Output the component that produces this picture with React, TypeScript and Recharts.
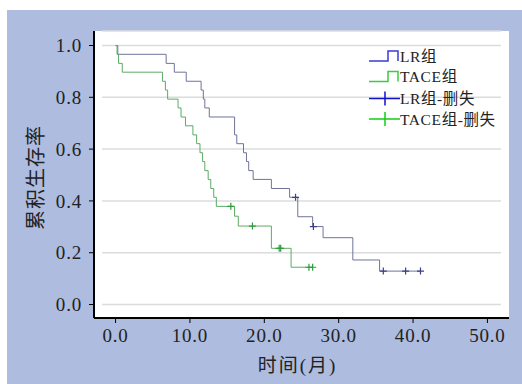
import React from "react";
import { CartesianGrid, ComposedChart, Legend, Line, Scatter, XAxis, YAxis } from "recharts";

// Kaplan-Meier steps (time in months, cumulative survival)
const lrTimes = [0, 0.3, 6.8, 7.9, 9.5, 11.5, 11.8, 12.0, 12.6, 16.0, 16.3, 17.2, 17.6, 17.9, 18.5, 20.95, 23.4, 24.5, 26.5, 27.9, 31.9, 35.5, 41.0];
const lrSurv = [1, 0.966, 0.931, 0.897, 0.862, 0.828, 0.793, 0.759, 0.724, 0.655, 0.621, 0.586, 0.552, 0.517, 0.483, 0.448, 0.414, 0.339, 0.301, 0.258, 0.172, 0.129, 0.129];
const taceTimes = [0, 0.2, 0.4, 0.9, 6.3, 6.7, 7.0, 8.4, 8.8, 9.4, 10.4, 10.9, 11.35, 11.7, 12.0, 12.45, 12.8, 13.2, 13.55, 16.0, 16.5, 20.95, 23.6, 26.5];
const taceSurv = [1, 0.966, 0.931, 0.897, 0.862, 0.828, 0.793, 0.759, 0.724, 0.69, 0.655, 0.621, 0.586, 0.552, 0.517, 0.483, 0.448, 0.414, 0.379, 0.341, 0.303, 0.217, 0.144, 0.144];

// censored observations
const lrCensorTimes = [24.2, 26.6, 36.0, 39.0, 41.0];
const lrCensorSurv = [0.414, 0.301, 0.129, 0.129, 0.129];
const taceCensorTimes = [15.5, 18.4, 22.0, 22.2, 26.0, 26.5];
const taceCensorSurv = [0.379, 0.303, 0.217, 0.217, 0.144, 0.144];

const xTicks = [0, 10, 20, 30, 40, 50];
const yTicks = [0, 0.2, 0.4, 0.6, 0.8, 1.0];
const seriesNames = ["LR组", "TACE组", "LR组-删失", "TACE组-删失"];

const toRows = (ts: number[], ss: number[]) => ts.map((t, i) => ({ t, s: ss[i] }));

const FONT = '"Liberation Serif", "DejaVu Serif", "Noto Sans CJK SC", serif';
const LR_LINE = "#707399";
const TACE_LINE = "#5aab64";
const LR_MARK = "#3c4088";
const TACE_MARK = "#2f9a3f";

const plus = (color: string) => (p: any) => (
  <path d={`M${p.cx - 3.5},${p.cy}h7M${p.cx},${p.cy - 3.5}v7`} stroke={color} strokeWidth={1.2} fill="none" />
);

function LegendBox() {
  const legendColors = ["#3b3bd6", "#3ccc3c", "#1010c8", "#10d010"];
  return (
    <svg width={150} height={82} style={{ fontFamily: FONT }}>
      {seriesNames.map((name, i) => {
        const cy = 10 + i * 20.5 + (i > 1 ? 1.5 : 0);
        const c = legendColors[i];
        return (
          <g key={name}>
            {i < 2 ? (
              <path d={`M1,${cy + 5}H20V${cy - 5}H30V${cy + 5}`} stroke={c} strokeWidth={1.5} fill="none" />
            ) : (
              <path d={`M1,${cy}H32M17,${cy - 7}V${cy + 7}`} stroke={c} strokeWidth={1.5} fill="none" />
            )}
            <text x={32} y={cy} dy="0.36em" fontSize={15.5} letterSpacing={0.6} fill="#222">
              {name}
            </text>
          </g>
        );
      })}
    </svg>
  );
}

export default function App() {
  const lr = toRows(lrTimes, lrSurv);
  const tace = toRows(taceTimes, taceSurv);
  const lrCens = toRows(lrCensorTimes, lrCensorSurv);
  const taceCens = toRows(taceCensorTimes, taceCensorSurv);
  const tickStyle = { fontFamily: FONT, fontSize: 19, fill: "#222", letterSpacing: 0.8 };

  return (
    <div style={{ position: "absolute", left: 0, top: 0, width: 522, height: 384 }}>
      <div style={{ position: "absolute", left: 7, top: 10, width: 515, height: 374, background: "#adbcdf" }} />
      <div style={{ position: "absolute", left: 0, top: 0 }}>
        <ComposedChart width={522} height={384} margin={{ top: 31, right: 13, bottom: 6, left: 14 }}>
          <CartesianGrid
            fill="#fff"
            fillOpacity={1}
            vertical={false}
            horizontal={(p: any) => (
              <line key={p.key} x1={p.x1 + 8} x2={p.x2 - 8} y1={p.y1} y2={p.y2} stroke="#dcdcdc" strokeWidth={1.5} />
            )}
          />
          <XAxis
            dataKey="t"
            type="number"
            domain={[-2.9, 52.9]}
            ticks={xTicks}
            allowDataOverflow
            tickFormatter={(v: number) => v.toFixed(1)}
            height={60}
            tickSize={5}
            tickMargin={6}
            stroke="#000"
            axisLine={{ stroke: "#000", strokeWidth: 2 }}
            tick={tickStyle}
            label={{ value: "时间(月)", position: "insideBottom", offset: 6, dx: -4, style: { fontFamily: FONT, fontSize: 19, fill: "#222", letterSpacing: 2 } }}
          />
          <XAxis xAxisId="top" orientation="top" type="number" domain={[-2.9, 52.9]} height={0} tick={false} tickLine={false} axisLine={{ stroke: "#000", strokeWidth: 2 }} />
          <YAxis
            dataKey="s"
            type="number"
            domain={[-0.052, 1.056]}
            ticks={yTicks}
            allowDataOverflow
            tickFormatter={(v: number) => v.toFixed(1)}
            width={80}
            tickSize={5}
            tickMargin={7}
            stroke="#000"
            axisLine={{ stroke: "#000", strokeWidth: 2 }}
            tick={tickStyle}
            label={{ value: "累积生存率", angle: -90, position: "insideLeft", offset: 22, dy: 3, style: { textAnchor: "middle", fontFamily: FONT, fontSize: 20, fill: "#222", letterSpacing: 1 } }}
          />
          <YAxis yAxisId="right" orientation="right" type="number" domain={[0, 1]} width={0} tick={false} tickLine={false} axisLine={{ stroke: "#000", strokeWidth: 2 }} />
          <Line data={lr} dataKey="s" name={seriesNames[0]} type="stepAfter" stroke={LR_LINE} strokeWidth={1} dot={false} isAnimationActive={false} />
          <Line data={tace} dataKey="s" name={seriesNames[1]} type="stepAfter" stroke={TACE_LINE} strokeWidth={1} dot={false} isAnimationActive={false} />
          <Scatter data={lrCens} dataKey="s" name={seriesNames[2]} shape={plus(LR_MARK)} isAnimationActive={false} />
          <Scatter data={taceCens} dataKey="s" name={seriesNames[3]} shape={plus(TACE_MARK)} isAnimationActive={false} />
          <Legend layout="vertical" align="center" verticalAlign="middle" wrapperStyle={{ left: 368, top: 46, width: 150 }} content={() => <LegendBox />} />
        </ComposedChart>
      </div>
    </div>
  );
}
